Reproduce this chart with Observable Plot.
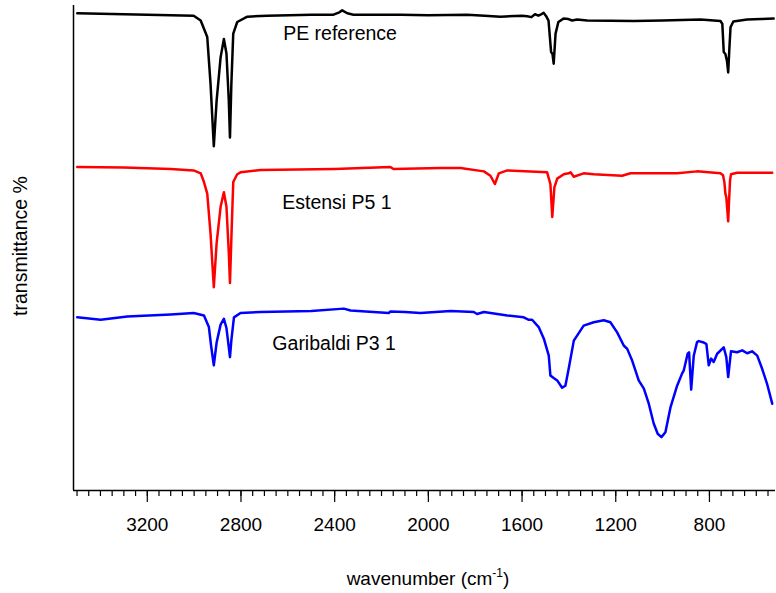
<!DOCTYPE html>
<html><head><meta charset="utf-8">
<script src="https://cdn.jsdelivr.net/npm/d3@7"></script>
<script src="https://cdn.jsdelivr.net/npm/@observablehq/plot@0.6"></script>
<style>body{margin:0;background:#fff}</style>
</head><body><div id="chart"></div>
<script>
// Series: wavenumber (cm-1) and offset transmittance (a.u.)
const peWn = [3499,3300,3100,3002,2972,2958,2944,2930,2916,2904,2887,2873,2862,2852,2847,2841,2833,2816,2773,2688,2500,2405,2380,2368,2346,2320,2119,2000,1834,1760,1692,1600,1578,1560,1545,1530,1521,1508,1497,1487,1476,1470,1465,1457,1445,1423,1402,1386,1365,1322,1124,1000,838,753,745,739,732,725,720,714,710,698,639,580,526];
const peT  = [98.4,98.2,98.0,97.9,96.9,95.2,93.5,83.9,71.0,80.4,89.3,93.1,90.1,80.4,72.8,83.9,94.2,96.6,97.7,97.9,98.1,98.1,98.6,99.0,98.4,98.1,98.1,98.0,98.1,97.9,97.7,97.9,97.8,97.6,98.2,97.9,98.1,98.5,97.8,96.9,90.4,90.0,88.0,94.2,96.6,97.3,97.2,96.9,97.1,96.9,96.8,96.9,97.1,96.8,96.2,90.4,90.0,88.5,86.2,92.0,95.5,96.7,97.1,97.2,97.3];

const estWn = [3499,3300,3100,3002,2972,2958,2944,2930,2916,2904,2887,2873,2862,2852,2847,2841,2833,2816,2802,2716,2400,2162,2149,1948,1863,1763,1735,1716,1699,1663,1493,1479,1471,1462,1450,1422,1401,1393,1379,1337,1294,1173,1137,938,853,753,742,736,732,728,724,720,716,712,708,682,532];
const estT  = [66.7,66.6,66.3,66.0,65.4,63.6,61.2,53.0,41.9,51.0,58.5,61.5,58.5,49.0,42.8,52.0,63.6,65.2,65.6,66.1,66.3,66.7,66.3,66.5,66.5,65.8,64.9,63.2,65.4,66.0,65.6,63.2,56.4,62.5,64.3,65.2,65.4,65.6,64.7,65.4,65.2,64.9,65.4,65.4,65.8,65.4,65.0,63.5,61.2,60.5,58.0,55.5,60.0,64.0,65.2,65.5,65.5];

const garWn = [3499,3399,3285,3100,3002,2958,2937,2928,2916,2904,2887,2873,2862,2852,2847,2841,2830,2802,2716,2500,2361,2332,2169,2162,2100,2034,1905,1806,1792,1763,1663,1593,1571,1557,1529,1507,1486,1479,1465,1450,1429,1415,1401,1379,1337,1294,1251,1223,1194,1166,1151,1130,1102,1080,1059,1038,1021,1005,988,966,938,917,910,893,887,878,867,853,846,824,813,803,793,782,767,739,728,720,708,682,660,639,618,596,575,554,532];
const garT  = [35.7,35.2,35.9,36.3,36.6,36.1,33.7,30.0,25.8,30.5,34.2,35.4,33.5,29.5,27.5,31.0,35.7,36.6,36.8,37.0,37.5,37.1,36.6,36.9,36.8,36.6,37.0,36.8,36.4,36.8,36.1,35.7,35.2,35.2,33.7,31.3,27.8,23.7,23.2,22.7,21.2,21.6,25.1,30.9,34.0,34.7,35.1,34.7,32.6,29.9,29.2,26.8,22.7,21.0,17.9,13.8,11.7,11.0,12.0,17.2,21.6,24.1,24.7,28.2,28.5,20.8,27.8,30.6,30.8,30.5,30.2,25.8,27.2,26.5,28.2,29.5,27.5,23.4,28.7,28.5,28.9,28.3,28.7,27.8,25.1,22.0,17.9];

const seriesNames = ["PE reference", "Estensi P5 1", "Garibaldi P3 1"];
const seriesColors = ["#000000", "#ff0000", "#0000ff"];
const labelWn = [2620, 2624, 2666];
const labelT = [94.1, 59.4, 30.2];
const majorTicks = [3200, 2800, 2400, 2000, 1600, 1200, 800];
const minorTicks = d3.range(550, 3501, 50);
const xDomain = [3515, 518];
const yDomain = [0, 100];

const seriesWn = [peWn, estWn, garWn];
const seriesT = [peT, estT, garT];
const rows = [];
seriesNames.forEach((name, i) => {
  seriesWn[i].forEach((w, j) => rows.push({name, wn: w, t: seriesT[i][j]}));
});
const labels = seriesNames.map((name, i) => ({name, wn: labelWn[i], t: labelT[i]}));

const font = "Arial, 'Liberation Sans', sans-serif";
const chart = Plot.plot({
  width: 776, height: 593,
  marginLeft: 73, marginRight: 1, marginTop: 5, marginBottom: 103,
  style: {fontFamily: font, fontSize: "19px", background: "white", color: "black"},
  x: {domain: xDomain, label: null},
  y: {domain: yDomain, axis: null},
  color: {domain: seriesNames, range: seriesColors},
  marks: [
    Plot.axisX({ticks: minorTicks, tickSize: 6, tickFormat: () => "", label: null, strokeWidth: 1.2}),
    Plot.axisX({ticks: majorTicks, tickSize: 12, tickPadding: 15, tickFormat: "d", label: null, strokeWidth: 1.2, fontSize: 19}),
    Plot.ruleY([yDomain[0]], {stroke: "black", strokeWidth: 1.5}),
    Plot.ruleX([xDomain[0]], {stroke: "black", strokeWidth: 1.5}),
    Plot.line(rows, {x: "wn", y: "t", z: "name", stroke: "name", strokeWidth: 2.5}),
    Plot.text(labels, {x: "wn", y: "t", text: "name", textAnchor: "start", fontSize: 19.5, fill: "black"})
  ]
});
document.getElementById("chart").appendChild(chart);

const svg = d3.select(chart);
const xl = svg.append("text")
  .attr("x", 428).attr("y", 585)
  .attr("text-anchor", "middle")
  .attr("font-family", font).attr("font-size", 19).attr("fill", "black");
xl.append("tspan").text("wavenumber (cm");
xl.append("tspan").attr("dy", -8).attr("font-size", 12).text("-1");
xl.append("tspan").attr("dy", 8).text(")");
svg.append("text")
  .attr("transform", "translate(27,246) rotate(-90)")
  .attr("text-anchor", "middle")
  .attr("font-family", font).attr("font-size", 19.5).attr("fill", "black")
  .text("transmittance %");
</script>
</body></html>
